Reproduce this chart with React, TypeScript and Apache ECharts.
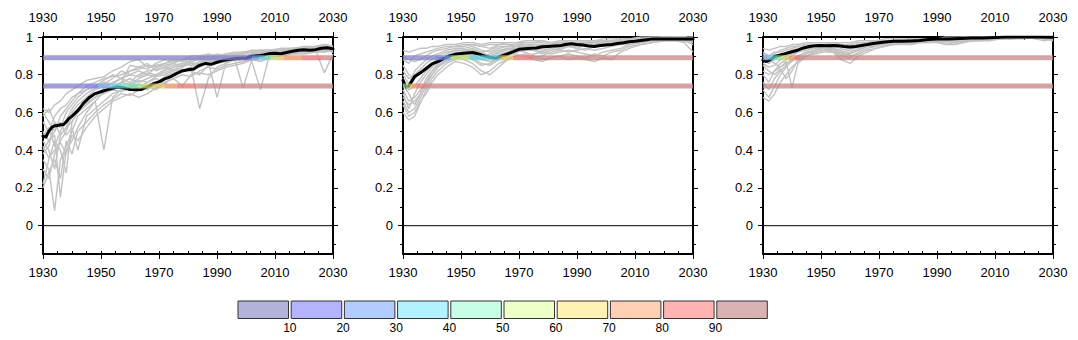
import React, { useEffect, useRef } from "react";
import * as echarts from "echarts";

const FONT = "'Liberation Sans', Arial, Helvetica, sans-serif";

// ---------- axis ticks ----------
const xMin = 1930;
const xMax = 2030;
const yMajorTicks = [0, 0.2, 0.4, 0.6, 0.8, 1];
const yMinorTicks = [-0.1, 0.1, 0.3, 0.5, 0.7, 0.9];

// ---------- thresholds ----------
const upperThreshold = 0.89;
const lowerThreshold = 0.74;

// ---------- colour scale (percent of members) ----------
const cbLabels = ["10", "20", "30", "40", "50", "60", "70", "80", "90"];
const cbColors = ["#b3b3d9", "#b3b3ff", "#b3ccff", "#b3f2ff", "#c6ffe6", "#ebffc6", "#fff2b3", "#ffd0b3", "#ffb3b3", "#d9b3b3"];
const bandColors = ["#8080c6", "#7676e6", "#76a6e6", "#60d0e0", "#76dbb0", "#bbdb70", "#dbc160", "#e69160", "#e67070", "#c68686"];

// ---------- ensemble members (gray) ----------
const grayYears = [1930, 1932, 1934, 1936, 1938, 1940, 1942, 1945, 1948, 1951, 1954, 1957, 1960, 1963, 1966, 1969, 1972, 1975, 1978, 1981, 1984, 1987, 1990, 1993, 1996, 1999, 2002, 2005, 2008, 2012, 2016, 2020, 2024, 2027, 2030];

const p1Gray = [
  [.62, .60, .64, .66, .70, .72, .74, .77, .78, .79, .82, .84, .87, .88, .84, .85, .86, .87, .88, .88, .89, .90, .89, .90, .91, .91, .92, .92, .93, .93, .94, .94, .95, .95, .94],
  [.55, .50, .58, .62, .64, .68, .70, .74, .76, .78, .79, .80, .82, .84, .83, .86, .88, .87, .88, .90, .90, .91, .90, .91, .92, .92, .93, .93, .93, .94, .94, .95, .95, .96, .95],
  [.45, .40, .30, .48, .52, .55, .60, .66, .70, .72, .74, .76, .75, .78, .80, .79, .82, .84, .85, .86, .86, .88, .89, .90, .90, .91, .92, .92, .92, .93, .93, .94, .94, .93, .94],
  [.35, .30, .08, .35, .42, .50, .58, .62, .66, .71, .73, .76, .78, .76, .78, .80, .81, .83, .82, .84, .86, .87, .88, .88, .89, .90, .90, .91, .92, .92, .93, .93, .94, .94, .93],
  [.50, .45, .48, .15, .40, .45, .52, .60, .66, .40, .68, .72, .74, .77, .76, .79, .80, .82, .84, .86, .84, .86, .88, .89, .90, .89, .91, .91, .92, .93, .92, .93, .94, .93, .92],
  [.22, .35, .45, .40, .28, .55, .60, .64, .68, .70, .72, .71, .73, .75, .72, .76, .79, .81, .83, .82, .80, .85, .87, .89, .88, .89, .90, .91, .90, .91, .92, .93, .94, .94, .94],
  [.40, .45, .50, .55, .48, .52, .40, .58, .62, .66, .70, .72, .74, .73, .76, .78, .75, .80, .82, .84, .62, .78, .84, .86, .88, .87, .89, .89, .91, .90, .92, .92, .93, .93, .93],
  [.60, .55, .50, .58, .62, .66, .70, .72, .74, .76, .75, .78, .80, .79, .81, .80, .83, .85, .86, .85, .87, .88, .86, .87, .89, .73, .88, .90, .91, .91, .92, .93, .93, .92, .93],
  [.30, .25, .38, .45, .50, .58, .62, .65, .68, .73, .76, .78, .76, .80, .82, .83, .84, .82, .86, .87, .88, .87, .68, .86, .88, .90, .87, .72, .90, .91, .92, .92, .93, .81, .91],
  [.48, .52, .42, .50, .56, .62, .66, .70, .73, .75, .78, .82, .80, .82, .80, .84, .85, .86, .84, .88, .89, .88, .90, .89, .90, .91, .92, .91, .92, .93, .94, .93, .95, .96, .95],
  [.38, .42, .55, .52, .60, .64, .68, .72, .74, .77, .80, .78, .82, .83, .85, .84, .86, .88, .87, .89, .88, .90, .89, .91, .91, .92, .92, .93, .93, .92, .93, .94, .94, .95, .95],
  [.20, .28, .35, .25, .45, .38, .50, .55, .60, .64, .67, .70, .69, .72, .74, .72, .76, .78, .80, .79, .82, .84, .83, .85, .86, .87, .88, .89, .89, .90, .91, .92, .92, .93, .92],
  [.58, .62, .55, .48, .52, .60, .64, .68, .72, .74, .72, .76, .85, .84, .86, .82, .84, .86, .88, .86, .90, .89, .91, .90, .89, .90, .91, .92, .93, .93, .94, .93, .94, .94, .95],
  [.42, .36, .40, .44, .38, .48, .45, .52, .58, .62, .66, .68, .70, .68, .70, .73, .76, .78, .74, .80, .81, .80, .82, .84, .85, .86, .88, .87, .89, .90, .91, .91, .92, .92, .93],
];

const p2Gray = [
  [.93, .92, .93, .94, .94, .95, .95, .96, .96, .97, .97, .96, .97, .97, .97, .97, .98, .98, .98, .97, .98, .98, .98, .98, .98, .99, .99, .99, .99, 1.0, 1.0, 1.0, 1.0, 1.0, .99],
  [.88, .86, .90, .91, .92, .93, .94, .95, .95, .96, .96, .95, .96, .96, .97, .97, .97, .97, .98, .97, .97, .98, .98, .98, .97, .98, .98, .99, .99, .99, .99, 1.0, 1.0, .99, .98],
  [.80, .75, .82, .85, .88, .90, .91, .93, .94, .94, .95, .93, .92, .94, .95, .96, .96, .96, .95, .96, .97, .97, .97, .96, .97, .98, .98, .98, .99, .99, .99, 1.0, 1.0, 1.0, 1.0],
  [.70, .62, .70, .76, .80, .84, .87, .90, .92, .92, .91, .88, .90, .92, .93, .95, .95, .94, .96, .95, .96, .97, .96, .95, .96, .97, .97, .98, .98, .99, .99, .99, .99, .98, .97],
  [.60, .56, .58, .65, .72, .78, .82, .86, .88, .90, .89, .86, .85, .88, .90, .92, .93, .93, .92, .94, .95, .95, .94, .96, .95, .96, .96, .97, .98, .98, .99, .99, 1.0, .99, .99],
  [.75, .70, .64, .70, .78, .82, .85, .88, .90, .88, .86, .82, .80, .84, .88, .90, .91, .89, .90, .92, .93, .92, .93, .94, .93, .94, .95, .96, .96, .97, .98, .99, .99, .99, .98],
  [.85, .80, .78, .82, .84, .86, .88, .91, .93, .93, .94, .92, .90, .92, .94, .93, .92, .90, .88, .89, .90, .88, .89, .88, .87, .89, .88, .92, .94, .96, .97, .98, .98, .97, .92],
  [.66, .60, .62, .68, .74, .80, .84, .87, .89, .91, .92, .90, .91, .93, .94, .94, .95, .96, .96, .95, .96, .96, .97, .97, .98, .97, .98, .98, .99, .99, 1.0, 1.0, .99, 1.0, .99],
  [.78, .72, .74, .78, .82, .85, .89, .90, .92, .91, .90, .88, .87, .89, .91, .92, .93, .94, .93, .94, .93, .95, .95, .96, .96, .96, .97, .97, .98, .98, .99, .99, .99, .99, .99],
  [.72, .66, .68, .72, .76, .80, .84, .88, .90, .92, .93, .91, .89, .91, .92, .94, .94, .93, .91, .93, .94, .95, .94, .93, .95, .96, .97, .96, .97, .98, .98, .99, 1.0, 1.0, .99],
  [.90, .88, .87, .88, .90, .92, .93, .94, .95, .95, .96, .95, .94, .96, .96, .96, .97, .97, .97, .96, .97, .97, .97, .97, .98, .98, .97, .98, .98, .99, .99, .99, .99, .99, 1.0],
  [.64, .58, .60, .66, .70, .76, .80, .84, .87, .86, .84, .80, .82, .86, .88, .90, .90, .88, .87, .89, .90, .91, .90, .89, .91, .90, .92, .93, .95, .96, .97, .98, .98, .98, .96],
  [.82, .78, .80, .83, .86, .88, .90, .92, .93, .93, .93, .92, .93, .95, .95, .95, .96, .95, .94, .95, .96, .96, .96, .97, .97, .97, .98, .98, .98, .99, .99, .99, 1.0, 1.0, .99],
  [.68, .64, .66, .70, .76, .82, .86, .89, .91, .90, .88, .85, .86, .89, .91, .91, .90, .91, .92, .91, .92, .93, .92, .91, .90, .92, .93, .94, .96, .97, .98, .99, .99, .98, .98],
];

const p3Gray = [
  [.94, .93, .94, .95, .95, .96, .96, .97, .97, .97, .97, .97, .97, .98, .98, .98, .99, .99, .99, .99, .99, .99, .99, 1.0, 1.0, 1.0, 1.0, 1.0, 1.0, 1.0, 1.0, 1.0, 1.0, 1.0, 1.0],
  [.92, .90, .91, .93, .94, .95, .95, .96, .96, .96, .96, .95, .96, .97, .97, .98, .98, .98, .98, .98, .99, .99, .99, .99, .99, .99, .99, 1.0, 1.0, 1.0, 1.0, 1.0, 1.0, .99, 1.0],
  [.88, .86, .88, .90, .92, .93, .94, .95, .95, .95, .95, .94, .95, .96, .97, .97, .98, .98, .98, .98, .98, .99, .99, .99, .98, .99, .99, .99, 1.0, 1.0, 1.0, 1.0, 1.0, 1.0, .99],
  [.80, .76, .82, .86, .88, .90, .92, .93, .94, .95, .94, .92, .93, .95, .96, .97, .97, .97, .98, .98, .98, .98, .98, .98, .97, .98, .98, .99, .99, .99, 1.0, 1.0, .99, .98, .99],
  [.72, .68, .74, .80, .84, .88, .90, .92, .92, .93, .93, .91, .92, .94, .95, .96, .97, .96, .97, .97, .98, .98, .97, .97, .96, .97, .98, .98, .99, .99, .99, 1.0, 1.0, .99, .98],
  [.85, .82, .80, .83, .78, .82, .88, .90, .91, .92, .92, .90, .89, .92, .94, .95, .96, .96, .97, .97, .97, .98, .98, .98, .98, .98, .99, .99, .99, .99, 1.0, 1.0, 1.0, .99, .99],
  [.90, .88, .86, .84, .87, .73, .86, .90, .92, .93, .93, .92, .90, .91, .93, .94, .95, .96, .97, .96, .97, .97, .98, .98, .97, .98, .98, .99, .99, 1.0, 1.0, 1.0, .99, 1.0, 1.0],
  [.76, .72, .78, .82, .85, .87, .89, .91, .93, .94, .94, .93, .94, .95, .96, .96, .97, .97, .97, .98, .98, .98, .98, .99, .99, .99, .99, .99, .99, 1.0, 1.0, 1.0, 1.0, 1.0, .99],
  [.68, .66, .70, .76, .80, .84, .87, .90, .92, .93, .92, .88, .86, .90, .92, .94, .95, .96, .96, .96, .97, .97, .97, .96, .96, .97, .98, .98, .98, .99, .99, .99, 1.0, .99, .99],
  [.86, .84, .85, .88, .90, .91, .93, .94, .94, .94, .93, .91, .91, .93, .95, .96, .97, .97, .98, .98, .98, .98, .99, .99, .99, .99, .99, .99, 1.0, 1.0, 1.0, 1.0, 1.0, 1.0, 1.0],
  [.82, .80, .82, .84, .86, .88, .90, .92, .93, .94, .93, .90, .91, .93, .95, .95, .96, .97, .97, .97, .98, .97, .98, .98, .98, .98, .99, .99, .99, .99, .99, 1.0, 1.0, .99, .99],
  [.91, .90, .92, .92, .93, .94, .95, .96, .96, .96, .97, .96, .96, .97, .97, .98, .98, .98, .99, .99, .99, .99, .99, .99, .99, 1.0, 1.0, 1.0, 1.0, 1.0, 1.0, 1.0, 1.0, 1.0, 1.0],
];

// ---------- ensemble means (black) ----------
const p1MeanYears = [1930, 1931, 1932, 1933, 1934, 1935, 1936, 1937, 1938, 1939, 1940, 1941, 1942, 1943, 1944, 1945, 1946, 1947, 1948, 1950, 1952, 1954, 1956, 1958, 1960, 1962, 1964, 1966, 1968, 1970, 1972, 1974, 1976, 1978, 1980, 1982, 1984, 1986, 1988, 1990, 1992, 1994, 1996, 1998, 2000, 2002, 2004, 2006, 2008, 2010, 2012, 2014, 2016, 2018, 2020, 2022, 2024, 2026, 2028, 2030];
const p1Mean = [.475, .47, .50, .52, .53, .53, .535, .535, .55, .57, .58, .595, .61, .63, .65, .665, .68, .69, .70, .71, .72, .728, .735, .73, .722, .72, .722, .737, .752, .762, .778, .79, .806, .82, .826, .83, .85, .86, .855, .866, .875, .88, .885, .888, .888, .898, .90, .905, .912, .914, .911, .918, .924, .93, .932, .93, .933, .94, .943, .937];

const p2MeanYears = [1930, 1931, 1932, 1933, 1934, 1936, 1938, 1940, 1942, 1944, 1946, 1948, 1950, 1952, 1954, 1956, 1958, 1960, 1962, 1964, 1966, 1968, 1970, 1972, 1974, 1976, 1978, 1980, 1982, 1984, 1986, 1988, 1990, 1992, 1994, 1996, 1998, 2000, 2002, 2004, 2006, 2008, 2010, 2012, 2014, 2016, 2018, 2020, 2024, 2028, 2030];
const p2Mean = [.77, .735, .74, .765, .79, .81, .833, .858, .87, .885, .90, .908, .912, .915, .918, .91, .90, .892, .888, .90, .91, .922, .935, .938, .94, .942, .948, .95, .952, .953, .96, .964, .96, .958, .952, .95, .955, .958, .96, .966, .97, .975, .978, .982, .986, .99, .99, .99, .99, .99, .99];

const p3MeanYears = [1930, 1931, 1932, 1933, 1934, 1936, 1938, 1940, 1942, 1944, 1946, 1948, 1950, 1952, 1954, 1956, 1958, 1960, 1962, 1964, 1966, 1968, 1970, 1972, 1975, 1978, 1981, 1984, 1987, 1990, 1994, 1998, 2002, 2006, 2010, 2014, 2020, 2025, 2030];
const p3Mean = [.878, .87, .875, .885, .897, .905, .913, .922, .93, .942, .95, .954, .955, .954, .955, .954, .95, .947, .95, .955, .96, .966, .97, .974, .977, .977, .979, .982, .987, .989, .989, .992, .995, .995, .998, 1.0, 1.0, 1.0, .999];

// ---------- threshold bands: year where each colour class starts, and its class ----------
const p1UpperStarts = [1930, 2000, 2002, 2004.5, 2006.5, 2008.5, 2010.5, 2013, 2019, 2027];
const p1UpperClasses = [0, 1, 2, 3, 4, 5, 6, 7, 8, 9];
const p1LowerStarts = [1930, 1944, 1949, 1953, 1958, 1963, 1967, 1972, 1976, 1983];
const p1LowerClasses = [0, 1, 2, 3, 4, 5, 6, 7, 8, 9];

const p2UpperStarts = [1930, 1941, 1944, 1946.5, 1953, 1963.5, 1968, 1975];
const p2UpperClasses = [0, 1, 2, 5, 3, 6, 8, 9];
const p2LowerStarts = [1930, 1931, 1932, 1933, 1934.5, 1938];
const p2LowerClasses = [4, 5, 6, 7, 8, 9];

const p3UpperStarts = [1930, 1932, 1934, 1936, 1937.5, 1939, 1941, 1943];
const p3UpperClasses = [2, 3, 4, 5, 6, 7, 8, 9];
const p3LowerStarts = [1930];
const p3LowerClasses = [9];

const panels = [
  { gray: p1Gray, meanYears: p1MeanYears, mean: p1Mean, bands: [[upperThreshold, p1UpperStarts, p1UpperClasses], [lowerThreshold, p1LowerStarts, p1LowerClasses]] },
  { gray: p2Gray, meanYears: p2MeanYears, mean: p2Mean, bands: [[upperThreshold, p2UpperStarts, p2UpperClasses], [lowerThreshold, p2LowerStarts, p2LowerClasses]] },
  { gray: p3Gray, meanYears: p3MeanYears, mean: p3Mean, bands: [[upperThreshold, p3UpperStarts, p3UpperClasses], [lowerThreshold, p3LowerStarts, p3LowerClasses]] },
];

// ---------- layout ----------
const GRID_LEFTS = [43, 403, 763];
const GRID_TOP = 37;
const GRID_W = 290;
const GRID_H = 217;
const CB_LEFT = 238;
const CB_TOP = 301;
const CB_PITCH = 53.2;
const CB_W = 50.5;
const CB_H = 17.5;

function buildOption() {
  const grid: any[] = [];
  const xAxis: any[] = [];
  const yAxis: any[] = [];
  const series: any[] = [];
  const axisLineStyle = { color: "#000", width: 2 };
  const tickStyle = { color: "#000", width: 1 };
  const labelStyle = { fontSize: 13, color: "#000", fontFamily: FONT, formatter: (v: number) => String(v) };

  panels.forEach((p, i) => {
    grid.push({ left: GRID_LEFTS[i], top: GRID_TOP, width: GRID_W, height: GRID_H, containLabel: false, outerBoundsMode: "none" });
    (["bottom", "top"] as const).forEach((pos) => {
      xAxis.push({
        gridIndex: i, type: "value", min: xMin, max: xMax, interval: 20, position: pos,
        axisLine: { show: true, onZero: false, lineStyle: axisLineStyle },
        axisTick: { show: true, inside: false, length: 5, lineStyle: tickStyle },
        axisLabel: { show: true, margin: pos === "top" ? 13 : 12, ...labelStyle },
        splitLine: { show: false },
      });
      xAxis.push({
        gridIndex: i, type: "value", min: xMin, max: xMax, interval: 5, position: pos,
        axisLine: { show: false, onZero: false },
        axisTick: { show: true, inside: true, length: 3, lineStyle: tickStyle },
        axisLabel: { show: false },
        splitLine: { show: false },
      });
    });
    (["left", "right"] as const).forEach((pos) => {
      yAxis.push({
        gridIndex: i, type: "value", min: -0.15, max: 1, position: pos,
        axisLine: { show: true, onZero: false, lineStyle: axisLineStyle },
        axisTick: { show: true, inside: false, length: 5, customValues: yMajorTicks, lineStyle: tickStyle },
        axisLabel: { show: pos === "left", customValues: yMajorTicks, margin: 10, ...labelStyle },
        splitLine: { show: false },
      });
      yAxis.push({
        gridIndex: i, type: "value", min: -0.15, max: 1, position: pos,
        axisLine: { show: false, onZero: false },
        axisTick: { show: true, inside: false, length: 3, customValues: yMinorTicks, lineStyle: tickStyle },
        axisLabel: { show: false },
        splitLine: { show: false },
      });
    });
    const xi = i * 4;
    const yi = i * 4;
    // zero line
    series.push({
      type: "line", xAxisIndex: xi, yAxisIndex: yi, silent: true, symbol: "none", z: 1,
      data: [[xMin, 0], [xMax, 0]], lineStyle: { color: "#000", width: 1 },
    });
    p.gray.forEach((m) => {
      series.push({
        type: "line", xAxisIndex: xi, yAxisIndex: yi, silent: true, symbol: "none", z: 2,
        data: grayYears.map((yr, k) => [yr, m[k]]).filter((d) => d[1] !== undefined),
        lineStyle: { color: "#c2c2c2", width: 1.4 },
      });
    });
    series.push({
      type: "line", xAxisIndex: xi, yAxisIndex: yi, silent: true, symbol: "none", z: 3,
      data: p.meanYears.map((yr, k) => [yr, p.mean[k]]),
      lineStyle: { color: "#000", width: 3, cap: "round", join: "round" },
    });
    p.bands.forEach((b: any) => {
      const [thr, starts, classes] = b;
      starts.forEach((s: number, k: number) => {
        const e = k + 1 < starts.length ? starts[k + 1] : xMax;
        series.push({
          type: "line", xAxisIndex: xi, yAxisIndex: yi, silent: true, symbol: "none", z: 4,
          data: [[s, thr], [e, thr]],
          lineStyle: { color: bandColors[classes[k]], width: 5, opacity: 0.75, cap: "butt" },
        });
      });
    });
  });

  const graphic: any[] = [];
  cbColors.forEach((c, k) => {
    graphic.push({
      type: "rect", silent: true,
      shape: { x: CB_LEFT + k * CB_PITCH, y: CB_TOP, width: CB_W, height: CB_H },
      style: { fill: c, stroke: "#333", lineWidth: 1 },
    });
  });
  cbLabels.forEach((t, k) => {
    graphic.push({
      type: "text", silent: true,
      x: CB_LEFT + (k + 1) * CB_PITCH - (CB_PITCH - CB_W) / 2,
      y: CB_TOP + CB_H + 9,
      style: { text: t, fill: "#000", fontSize: 12, fontFamily: FONT, align: "center", verticalAlign: "middle", textAlign: "center", textVerticalAlign: "middle" },
    });
  });

  return { animation: false, backgroundColor: "#fff", grid, xAxis, yAxis, series, graphic };
}

export default function App() {
  const ref = useRef<HTMLDivElement>(null);
  useEffect(() => {
    document.body.style.margin = "0";
    if (!ref.current) return;
    const chart = echarts.init(ref.current, undefined, { renderer: "svg" });
    chart.setOption(buildOption() as any);
    return () => chart.dispose();
  }, []);
  return <div ref={ref} style={{ width: 1078, height: 340 }} />;
}
